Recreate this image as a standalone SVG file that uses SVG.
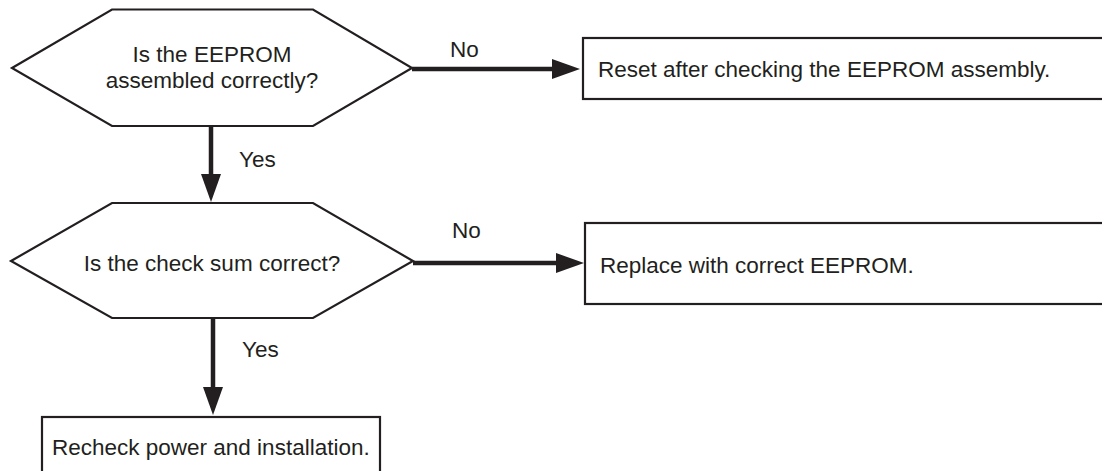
<svg xmlns="http://www.w3.org/2000/svg" width="1102" height="471" viewBox="0 0 1102 471">
<style>
.shape{fill:#fff;stroke:#231f20;stroke-width:2.2}
.t{font-family:"Liberation Sans",Arial,sans-serif;font-size:22.5px;fill:#231f20}
.c{text-anchor:middle}
.conn{stroke:#231f20;stroke-width:4.5;fill:none}
</style>
<defs>
<marker id="ah" markerUnits="userSpaceOnUse" markerWidth="30" markerHeight="22" refX="1" refY="10" orient="auto" viewBox="0 0 30 22">
<path d="M0,0 L28,10 L0,20 z" fill="#231f20"/>
</marker>
</defs>
<g id="connectors">
<path class="conn" d="M412,69 H553" marker-end="url(#ah)"/>
<path class="conn" d="M413,263 H557" marker-end="url(#ah)"/>
<path class="conn" d="M211,126 V175" marker-end="url(#ah)"/>
<path class="conn" d="M213,318 V388" marker-end="url(#ah)"/>
<text class="t" x="450" y="57">No</text>
<text class="t" x="452" y="238">No</text>
<text class="t" x="239" y="167">Yes</text>
<text class="t" x="242" y="357">Yes</text>
</g>
<g id="q1">
<polygon class="shape" points="12,68 112,9.5 313,9.5 412,68 313,126 112,126"/>
<text class="t c" x="212" y="62">Is the EEPROM</text>
<text class="t c" x="212" y="88">assembled correctly?</text>
</g>
<g id="q2">
<polygon class="shape" points="11,261 112,203 313,203 413,261 313,318 112,318"/>
<text class="t c" x="212" y="271">Is the check sum correct?</text>
</g>
<g id="reset">
<rect class="shape" x="583" y="38" width="540" height="61"/>
<text class="t" x="598" y="77">Reset after checking the EEPROM assembly.</text>
</g>
<g id="replace">
<rect class="shape" x="585" y="223" width="540" height="81"/>
<text class="t" x="600" y="273">Replace with correct EEPROM.</text>
</g>
<g id="recheck">
<rect class="shape" x="42" y="417" width="338" height="70"/>
<text class="t" x="52" y="455">Recheck power and installation.</text>
</g>
</svg>
